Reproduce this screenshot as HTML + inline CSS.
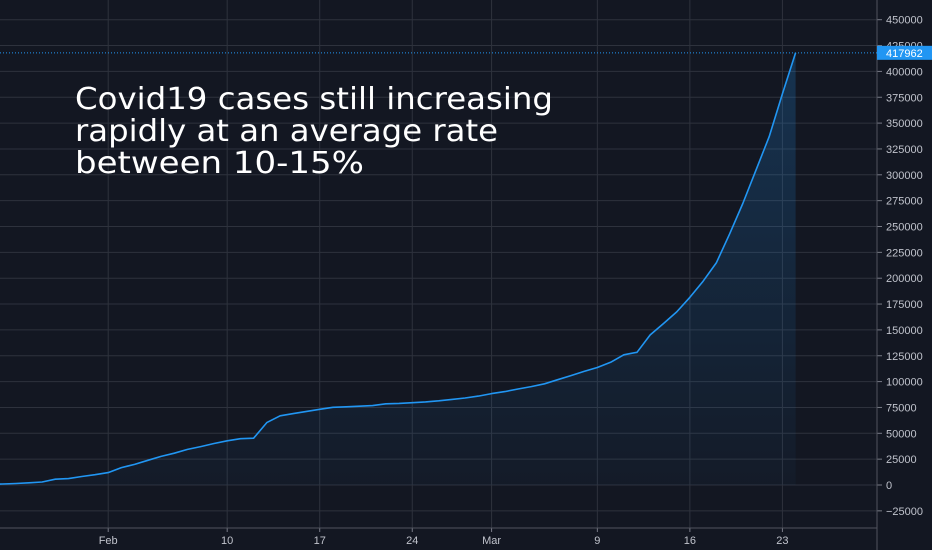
<!DOCTYPE html>
<html><head><meta charset="utf-8"><style>
html,body{margin:0;padding:0;background:#131722;width:932px;height:550px;overflow:hidden}
svg{display:block;font-family:"Liberation Sans",sans-serif}
</style></head><body>
<svg id="chart" width="932" height="550" xmlns="http://www.w3.org/2000/svg">
<defs>
<linearGradient id="fillg" x1="0" y1="0" x2="0" y2="1">
<stop offset="0" stop-color="#2196f3" stop-opacity="0.22"/>
<stop offset="1" stop-color="#2196f3" stop-opacity="0.03"/>
</linearGradient>
<clipPath id="plotclip"><rect x="0" y="0" width="877" height="528"/></clipPath>
</defs>
<rect x="0" y="0" width="932" height="550" fill="#131722"/>
<g id="grid"></g>
<g id="series" clip-path="url(#plotclip)"></g>
<g id="axes"></g>
<g fill="#ffffff" font-family="'DejaVu Sans',sans-serif" font-size="30">
<text x="75" y="109" textLength="478" lengthAdjust="spacingAndGlyphs">Covid19 cases still increasing</text>
<text x="75" y="141" textLength="423" lengthAdjust="spacingAndGlyphs">rapidly at an average rate</text>
<text x="75" y="173" textLength="289" lengthAdjust="spacingAndGlyphs">between 10-15%</text>
</g>
</svg>
<script>
const values = [555,654,941,1434,2118,2927,5578,6166,8234,9927,12038,16787,19887,23898,27643,30802,34395,37129,40159,42762,44802,45221,60368,66885,69030,71224,73258,75136,75639,76197,76819,78572,78958,79561,80406,81388,82746,84112,86011,88369,90306,92840,95120,97886,101801,105847,109821,113590,118620,125875,128352,145205,156101,167454,181574,197102,214821,242570,272208,304507,336953,378235,417962];
const yTicks = [-25000,0,25000,50000,75000,100000,125000,150000,175000,200000,225000,250000,275000,300000,325000,350000,375000,400000,425000,450000];
const xTickDays = [10,19,26,33,39,47,54,61];
const xTickLabels = ["Feb","10","17","24","Mar","9","16","23"];
const lastLabel = "417962";

const NS = "http://www.w3.org/2000/svg";
const xScale = d => -24 + d * 13.22;
const yScale = v => 485 - v * (25.85 / 25000);
function mk(tag, attrs, parent){const e=document.createElementNS(NS,tag);for(const k in attrs)e.setAttribute(k,attrs[k]);parent.appendChild(e);return e;}
const grid=document.getElementById('grid'), series=document.getElementById('series'), axes=document.getElementById('axes');

yTicks.forEach(v=>{
  const y=yScale(v);
  const l=mk('line',{x1:0,x2:877,y1:y,y2:y,stroke:'#2e323d','stroke-width':1},grid);
  
  
  const t=mk('line',{x1:877,x2:882,y1:y,y2:y,stroke:'#787b86','stroke-width':1},axes);
  
  
  const tx=mk('text',{x:886,y:y+4,fill:'#c0c3cc','font-size':11},axes);
  tx.textContent=String(v).replace('-','\u2212');
  
  
});
xTickDays.forEach((d,i)=>{
  const x=xScale(d);
  const l=mk('line',{x1:x,x2:x,y1:0,y2:528,stroke:'#2e323d','stroke-width':1},grid);
  
  
  const t=mk('line',{x1:x,x2:x,y1:528,y2:532,stroke:'#787b86','stroke-width':1},axes);
  
  
  const tx=mk('text',{x:x,y:544,fill:'#c0c3cc','font-size':11,'text-anchor':'middle'},axes);
  tx.textContent=xTickLabels[i];
  
  
});
const ax=mk('line',{x1:0,x2:877,y1:528,y2:528,stroke:'#50535e','stroke-width':1},axes);


const ay=mk('line',{x1:877,x2:877,y1:0,y2:550,stroke:'#50535e','stroke-width':1},axes);



let pts=values.map((v,i)=>xScale(i).toFixed(1)+','+yScale(v).toFixed(1));
const x0=xScale(0), xn=xScale(values.length-1), y0=yScale(0);
const area=mk('polygon',{points:x0+','+y0+' '+pts.join(' ')+' '+xn+','+y0,fill:'url(#fillg)'},series);


const line=mk('polyline',{points:pts.join(' '),fill:'none',stroke:'#2196f3','stroke-width':1.6,'stroke-linejoin':'round'},series);



const lv=values[values.length-1], ly=yScale(lv);
const dl=mk('line',{x1:0,x2:877,y1:ly,y2:ly,stroke:'#2196f3','stroke-width':1,'stroke-dasharray':'1,2'},axes);


const box=mk('rect',{x:877,y:ly-7,width:55,height:14,fill:'#2196f3'},axes);


const bt=mk('text',{x:886,y:ly+4,fill:'#ffffff','font-size':11},axes);
bt.textContent=lastLabel;


</script>
</body></html>
